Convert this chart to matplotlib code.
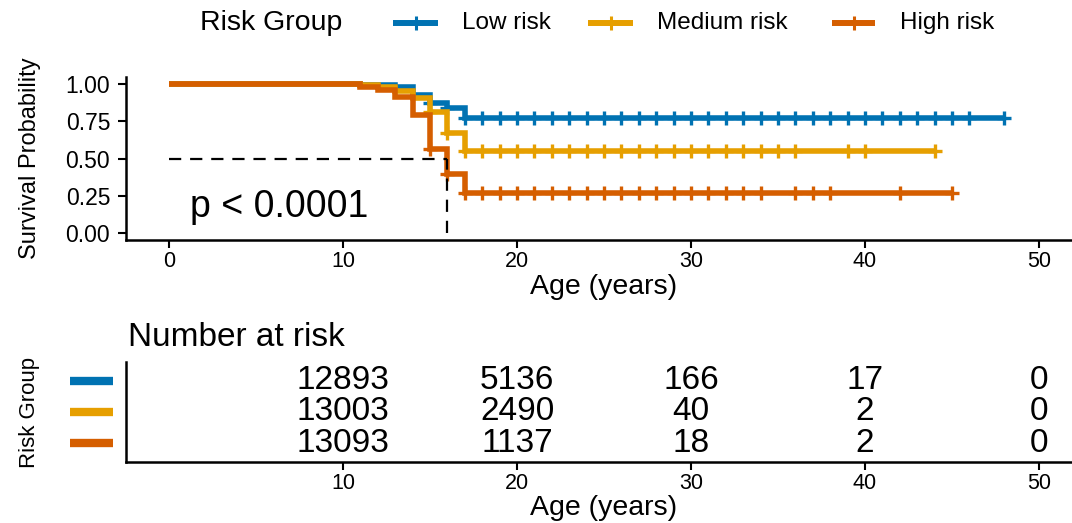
import numpy as np
import matplotlib
matplotlib.use('Agg')
import matplotlib.pyplot as plt
import matplotlib.transforms as mtransforms
from matplotlib.lines import Line2D

plt.rcParams['font.family'] = ['Liberation Sans', 'DejaVu Sans']

# groups and colours
groups = ['Low risk', 'Medium risk', 'High risk']
colors = ['#0072B2', '#E69F00', '#D55E00']

# Kaplan-Meier step values
step_times = [0, 11, 12, 13, 14, 15, 16, 17]
surv_low = [1.0, 0.998, 0.995, 0.985, 0.925, 0.872, 0.838, 0.770]
surv_med = [1.0, 0.995, 0.985, 0.955, 0.905, 0.815, 0.670, 0.550]
surv_high = [1.0, 0.985, 0.962, 0.917, 0.790, 0.565, 0.395, 0.265]
end_times = [48, 44, 45]

# censoring marks
censor_low = [15, 16, 17, 18, 19, 20, 21, 22, 23, 24, 25, 26, 27, 28, 29, 30, 31,
              32, 33, 34, 35, 36, 37, 38, 39, 40, 41, 42, 43, 44, 45, 46, 48]
censor_med = [15, 16, 17, 18, 19, 20, 21, 22, 23, 24, 25, 26, 27, 28, 29, 30, 31,
              32, 33, 34, 35, 36, 39, 40, 44]
censor_high = [15, 16, 17, 18, 19, 20, 21, 22, 23, 24, 25, 26, 27, 28, 29, 30, 31,
               32, 33, 34, 36, 37, 38, 42, 45]

# number at risk table
risk_times = [10, 20, 30, 40, 50]
risk_low = [12893, 5136, 166, 17, 0]
risk_med = [13003, 2490, 40, 2, 0]
risk_high = [13093, 1137, 18, 2, 0]

x_ticks_top = [0, 10, 20, 30, 40, 50]
x_ticks_table = [10, 20, 30, 40, 50]
y_ticks = [0.0, 0.25, 0.5, 0.75, 1.0]
p_text = 'p < 0.0001'

W, H = 1072, 523
fig = plt.figure(figsize=(W / 100, H / 100), dpi=100)
ax = fig.add_axes([125.5 / W, 1 - 240.1 / H, 957 / W, 163.2 / H])
ax2 = fig.add_axes([125.5 / W, 1 - 462 / H, 957 / W, 100 / H])

survs = [surv_low, surv_med, surv_high]
censors = [censor_low, censor_med, censor_high]
for i in range(3):
    s = survs[i]
    t = step_times + [end_times[i]]
    y = s + [s[-1]]
    ax.step(t, y, where='post', color=colors[i], lw=4, zorder=2 + i,
            solid_capstyle='butt', solid_joinstyle='miter')
    cs = [s[np.searchsorted(step_times, c, side='right') - 1] for c in censors[i]]
    ax.plot(censors[i], cs, ls='none', marker='+', ms=10, mew=2.4,
            color=colors[i], zorder=2 + i)

# median survival of the high risk group
med_idx = next(k for k, v in enumerate(surv_high) if v <= 0.5)
med_t = step_times[med_idx]
ax.plot([0, med_t], [0.5, 0.5], color='black', ls=(0, (5.5, 4)), lw=1.6, zorder=10)
ax.plot([med_t, med_t], [0, 0.5], color='black', ls=(0, (5.5, 4)), lw=1.6, zorder=10)

ax.text(1.2, 0.17, p_text, fontsize=27, va='center', ha='left')

ax.set_xlim(-2.5, 52.5)
ax.set_ylim(-0.05, 1.05)
ax.set_xticks(x_ticks_top)
ax.set_yticks(y_ticks)
ax.set_yticklabels(['%.2f' % v for v in y_ticks])
for sp in ['top', 'right']:
    ax.spines[sp].set_visible(False)
for sp in ['left', 'bottom']:
    ax.spines[sp].set_linewidth(1.8)
ax.tick_params(axis='x', length=6, width=1.5, labelsize=15.5, pad=2)
ax.tick_params(axis='y', length=6, width=1.5, labelsize=16.5, pad=5)
ax.set_xlabel('Age (years)', fontsize=20.5)
ax.xaxis.set_label_coords(0.5, -0.287)
ax.xaxis.label.set_va('center')
ax.set_ylabel('Survival Probability', fontsize=17)
ax.yaxis.set_label_coords(-0.0998, 0.5)
ax.yaxis.label.set_va('center')

# legend on top
yc = 1 - 23 / H
fig.text(200 / W, yc, 'Risk Group', fontsize=20.5, va='center', ha='left')
handle_pos = [(393, 438, 462), (588, 633, 657), (832, 875, 900)]
for i, (x0, x1, tx) in enumerate(handle_pos):
    fig.add_artist(Line2D([x0 / W, x1 / W], [yc, yc], color=colors[i], lw=4.3,
                          solid_capstyle='butt'))
    fig.add_artist(Line2D([(x0 + x1) / 2 / W], [yc], color=colors[i], marker='+',
                          ms=10, mew=2.2, ls='none'))
    fig.text(tx / W, yc, groups[i], fontsize=17.5, va='center', ha='left')

# risk table
risks = [risk_low, risk_med, risk_high]
trans = mtransforms.blended_transform_factory(ax2.transAxes, ax2.transData)
for i in range(3):
    row = i + 1
    for t, n in zip(risk_times, risks[i]):
        ax2.text(t, row, str(n), ha='center', va='center', fontsize=24)
    ax2.plot([-0.058, -0.013], [row, row], color=colors[i], lw=6, transform=trans,
             clip_on=False, solid_capstyle='butt')

ax2.set_xlim(-2.5, 52.5)
ax2.set_ylim(3.6, 0.4)
ax2.set_xticks(x_ticks_table)
ax2.set_yticks([])
for sp in ['top', 'right']:
    ax2.spines[sp].set_visible(False)
for sp in ['left', 'bottom']:
    ax2.spines[sp].set_linewidth(1.8)
ax2.tick_params(axis='x', length=6, width=1.5, labelsize=15.5, pad=2)
ax2.text(0.003, 1.25, 'Number at risk', transform=ax2.transAxes, fontsize=24,
         va='center', ha='left')
ax2.set_xlabel('Age (years)', fontsize=20.5)
ax2.xaxis.set_label_coords(0.5, -0.46)
ax2.xaxis.label.set_va('center')
ax2.set_ylabel('Risk Group', fontsize=16)
ax2.yaxis.set_label_coords(-0.0998, 0.5)
ax2.yaxis.label.set_va('center')

fig.savefig('out.png', dpi=100)
